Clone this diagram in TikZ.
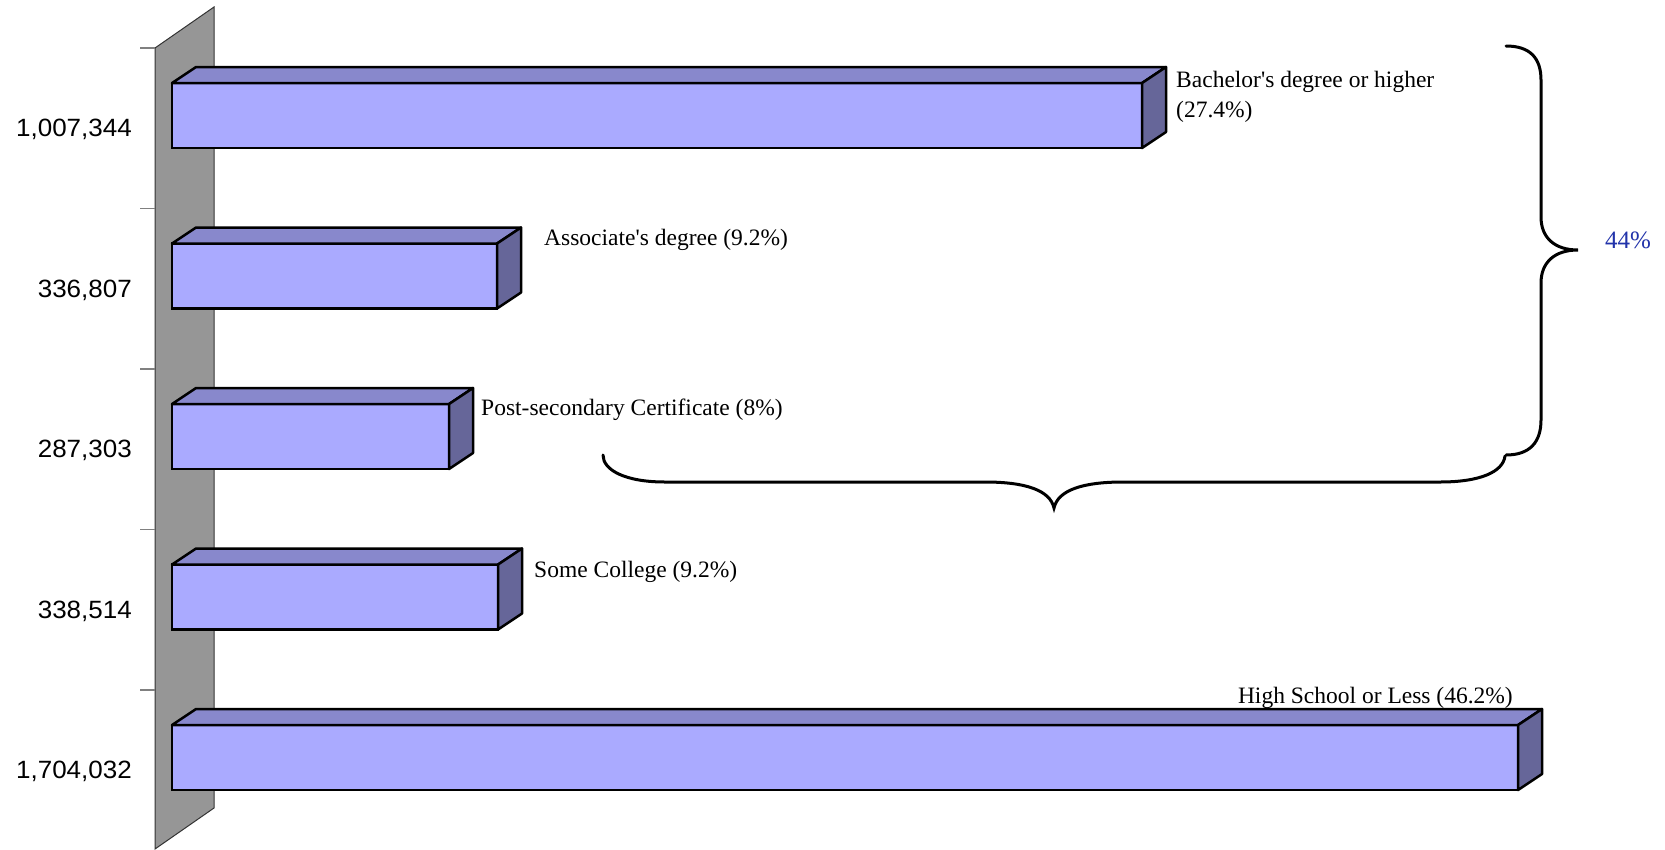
\documentclass[tikz,border=0pt]{standalone}
\usepackage{fontspec}
\setmainfont{Liberation Serif}
\newfontfamily\axisfont[FakeStretch=1.04]{Liberation Sans}
\usepackage{xcolor}
\usetikzlibrary{calc}
\definecolor{barfront}{RGB}{170,170,255}
\definecolor{bartop}{RGB}{136,136,204}
\definecolor{barside}{RGB}{102,102,153}
\definecolor{wallgray}{RGB}{150,150,150}
\definecolor{pctblue}{RGB}{34,51,170}

\begin{document}
\begin{tikzpicture}[x=1pt,y=-1pt]
\tikzstyle{every node}+=[inner sep=0pt]
\tikzset{
  front/.style={draw=black, line width=2.5pt, fill=barfront, anchor=north west, minimum height=65pt, outer sep=0pt},
  topface/.style={draw=black, line width=2.5pt, fill=bartop, line join=round},
  sideface/.style={draw=black, line width=2.5pt, fill=barside, line join=round},
  catlabel/.style={font=\fontsize{23.5}{30}\selectfont, text=black},
  numlabel/.style={font=\axisfont\fontsize{25}{30}\selectfont, anchor=east},
  bracepath/.style={draw=black, line width=3pt, line cap=round}
}
\useasboundingbox (0,0) rectangle (1665,849);
% wall and ticks
\draw [fill=wallgray, draw=black!80, line width=1pt] (155,48) -- (214,7) -- (214,808) -- (155,849) -- cycle;
\foreach \y in {48,208.5,369,529.5,690}
  \draw [gray, line width=1.5pt] (140,\y) -- (155,\y);
% values
\node [numlabel] (n1) at (132,129) {1,007,344};
\node [numlabel] (n2) at (132,290) {336,807};
\node [numlabel] (n3) at (132,450) {287,303};
\node [numlabel] (n4) at (132,611) {338,514};
\node [numlabel] (n5) at (132,771) {1,704,032};
% bars
\node [front, minimum width=970pt] (b1) at (172,83) {};
\draw [topface] (b1.north west) -- (b1.north east) -- ++(24,-16) -- ($(b1.north west)+(24,-16)$) -- cycle;
\draw [sideface] (b1.north east) -- ++(24,-16) -- ++(0,65) -- (b1.south east) -- cycle;
\node [front, minimum width=325pt] (b2) at (172,243.5) {};
\draw [topface] (b2.north west) -- (b2.north east) -- ++(24,-16) -- ($(b2.north west)+(24,-16)$) -- cycle;
\draw [sideface] (b2.north east) -- ++(24,-16) -- ++(0,65) -- (b2.south east) -- cycle;
\node [front, minimum width=277pt] (b3) at (172,404) {};
\draw [topface] (b3.north west) -- (b3.north east) -- ++(24,-16) -- ($(b3.north west)+(24,-16)$) -- cycle;
\draw [sideface] (b3.north east) -- ++(24,-16) -- ++(0,65) -- (b3.south east) -- cycle;
\node [front, minimum width=326pt] (b4) at (172,564.5) {};
\draw [topface] (b4.north west) -- (b4.north east) -- ++(24,-16) -- ($(b4.north west)+(24,-16)$) -- cycle;
\draw [sideface] (b4.north east) -- ++(24,-16) -- ++(0,65) -- (b4.south east) -- cycle;
\node [front, minimum width=1346pt] (b5) at (172,725) {};
\draw [topface] (b5.north west) -- (b5.north east) -- ++(24,-16) -- ($(b5.north west)+(24,-16)$) -- cycle;
\draw [sideface] (b5.north east) -- ++(24,-16) -- ++(0,65) -- (b5.south east) -- cycle;
% bar labels
\node [catlabel, anchor=north west, align=left] (l1) at (1176,71) {Bachelor\textquotesingle s degree or higher\\(27.4\%)};
\node [catlabel, anchor=base west] (l2) at (544,245) {Associate\textquotesingle s degree (9.2\%)};
\node [catlabel, anchor=base west] (l3) at (481,415) {Post-secondary Certificate (8\%)};
\node [catlabel, anchor=base west] (l4) at (534,577) {Some College (9.2\%)};
\node [catlabel, anchor=base east] (l5) at (1513,703) {High School or Less (46.2\%)};
% braces
\draw [bracepath] (1506,46) .. controls (1530,46) and (1541,58) .. (1541,80) -- (1541,217)
  .. controls (1541,238) and (1555,250) .. (1578,250)
  .. controls (1555,250) and (1541,262) .. (1541,283) -- (1541,420)
  .. controls (1541,442) and (1530,455) .. (1506,455);
\draw [bracepath] (603,455) .. controls (603,470) and (625,482) .. (665,482) -- (985,482)
  .. controls (1025,482) and (1050,490) .. (1054,508)
  .. controls (1058,490) and (1083,482) .. (1123,482) -- (1440,482)
  .. controls (1480,482) and (1503,472) .. (1505,456);
\node [font=\fontsize{25}{30}\selectfont, text=pctblue, anchor=base west] (pct) at (1605,248) {44\%};
\end{tikzpicture}
\end{document}
